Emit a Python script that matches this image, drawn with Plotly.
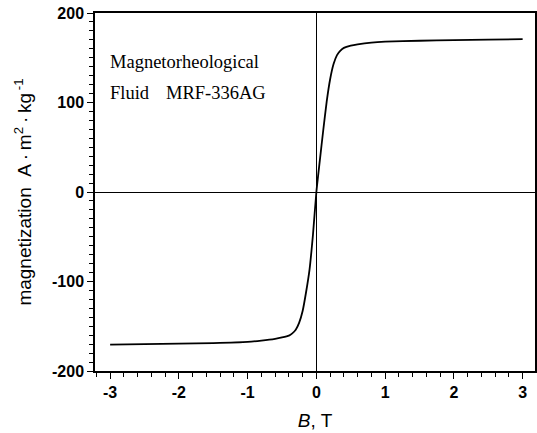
import plotly.graph_objects as go

# Data
B_field = [-3.0, -2.5, -2.0, -1.5, -1.0, -0.8, -0.6, -0.5, -0.4, -0.35, -0.3, -0.25, -0.2, -0.15, -0.1, -0.05,
           0.0, 0.05, 0.1, 0.15, 0.2, 0.25, 0.3, 0.35, 0.4, 0.5, 0.6, 0.8, 1.0, 1.5, 2.0, 2.5, 3.0]
magnetization = [-170.5, -170.0, -169.5, -168.8, -167.5, -166.0, -164.0, -162.5, -160.5, -158.0, -154.0, -146.0, -133.0, -112.0, -87.0, -48.0,
                 0.0, 35.0, 69.0, 101.0, 126.0, 143.0, 153.0, 158.0, 161.0, 163.5, 165.0, 167.0, 168.0, 169.0, 169.6, 170.2, 170.7]

x_tick_vals = [-3, -2, -1, 0, 1, 2, 3]
x_tick_text = ["-3", "-2", "-1", "0", "1", "2", "3"]
y_tick_vals = [-200, -100, 0, 100, 200]
y_tick_text = ["-200", "-100", "0", "100", "200"]

sans = "Arial, Liberation Sans, sans-serif"
serif = "Times New Roman, Liberation Serif, serif"

fig = go.Figure()
fig.add_trace(go.Scatter(
    x=B_field, y=magnetization, mode="lines",
    line=dict(color="black", width=1.8, shape="spline", smoothing=0.6),
    showlegend=False, hoverinfo="skip",
))

axis_common = dict(
    showgrid=False,
    showline=True, linecolor="black", linewidth=1.5, mirror=True,
    ticks="outside", ticklen=6, tickwidth=1.2, tickcolor="black",
    zeroline=True, zerolinecolor="black", zerolinewidth=1.2,
    tickfont=dict(family=sans, size=16, color="black", weight="bold"),
)

fig.update_xaxes(
    **axis_common,
    range=[-3.22, 3.18],
    tickvals=x_tick_vals, ticktext=x_tick_text,
    minor=dict(dtick=0.2, tick0=0, ticks="outside", ticklen=4, tickwidth=1, tickcolor="black"),
    title=dict(text="<i>B</i>, T", font=dict(family=sans, size=19, color="black"), standoff=14),
)
fig.update_yaxes(
    **axis_common,
    range=[-200, 200],
    tickvals=y_tick_vals, ticktext=y_tick_text,
    minor=dict(dtick=10, tick0=0, ticks="outside", ticklen=4, tickwidth=1, tickcolor="black"),
    title=dict(text="magnetization\u00a0\u00a0A\u2009·\u2009m<sup>2</sup>\u2009·\u2009kg<sup>\u2009-1</sup>",
               font=dict(family=sans, size=19, color="black"), standoff=15),
)

fig.add_annotation(x=-3.03, y=145, xref="x", yref="y", text="Magnetorheological",
                   showarrow=False, xanchor="left", yanchor="middle",
                   font=dict(family=serif, size=18.5, color="black"))
fig.add_annotation(x=-3.03, y=111, xref="x", yref="y", text="Fluid",
                   showarrow=False, xanchor="left", yanchor="middle",
                   font=dict(family=serif, size=18.5, color="black"))
fig.add_annotation(x=-2.22, y=111, xref="x", yref="y", text="MRF-336AG",
                   showarrow=False, xanchor="left", yanchor="middle",
                   font=dict(family=serif, size=18.5, color="black"))

fig.update_layout(
    width=537, height=433,
    margin=dict(l=95, r=0, t=13, b=62),
    paper_bgcolor="white", plot_bgcolor="white",
)

fig.write_html("out.html", config={"displayModeBar": False},
               post_script="document.body.style.margin='0';document.body.style.overflow='hidden';")
